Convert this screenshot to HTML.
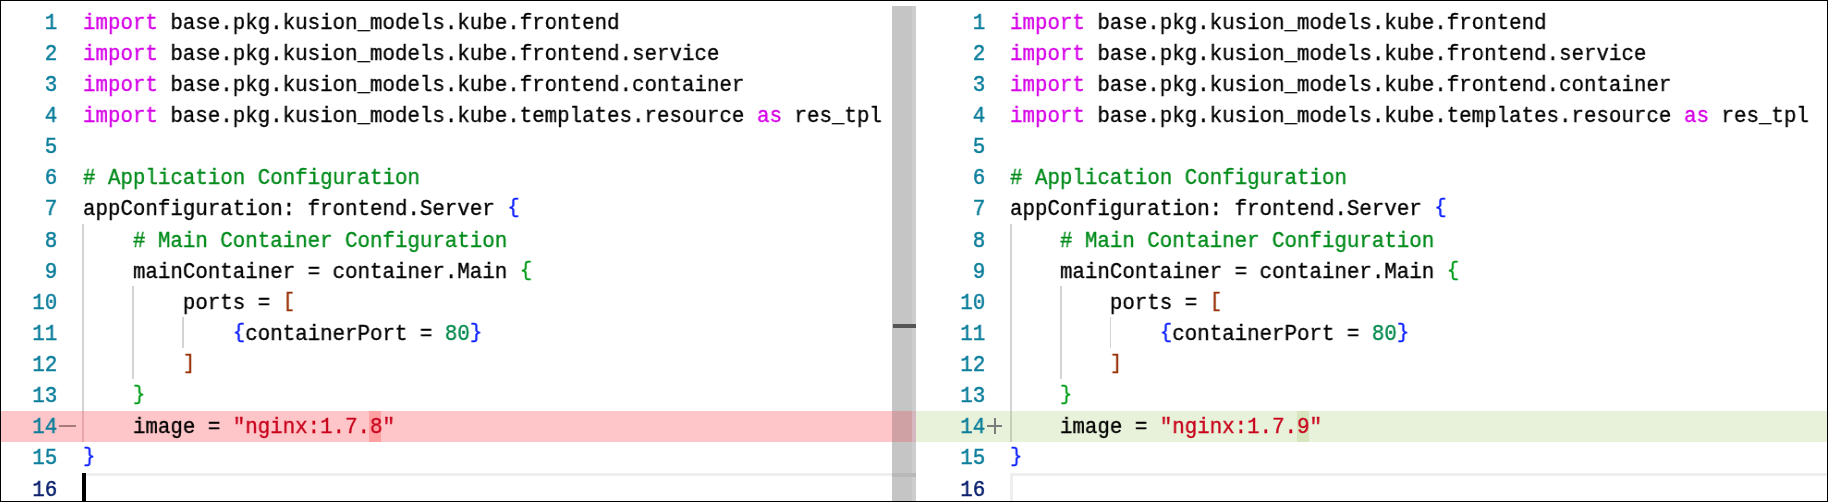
<!DOCTYPE html>
<html><head><meta charset="utf-8"><style>
html,body{margin:0;padding:0;}
body{width:1828px;height:502px;overflow:hidden;background:#fff;position:relative;font-family:"Liberation Mono",monospace;font-size:22.5px;}
.abs{position:absolute;}
.ln{position:absolute;width:57.2px;text-align:right;height:31.12px;line-height:31.12px;white-space:pre;transform:scaleX(0.92429);transform-origin:57.2px 0;-webkit-text-stroke:0.5px currentColor;will-change:transform;}
.code{position:absolute;height:31.12px;line-height:31.12px;white-space:pre;color:#000;transform:scaleX(0.92429);transform-origin:0 0;-webkit-text-stroke:0.35px currentColor;will-change:transform;}
.br{display:inline-block;transform:translateY(-2.4px) scaleY(0.914);transform-origin:50% 21.55px;}
.guide{position:absolute;width:1.73px;background:#d3d3d3;}
</style></head><body>
<div class="abs" style="left:1px;top:410.56px;width:915px;height:31.12px;background:#ffc6c9"></div>
<div class="abs" style="left:916px;top:410.56px;width:911px;height:31.12px;background:#e8f2da"></div>
<div class="abs" style="left:369.44px;top:410.56px;width:12px;height:31.12px;background:rgba(255,0,0,0.19)"></div>
<div class="abs" style="left:1296.94px;top:410.56px;width:12px;height:31.12px;background:rgba(155,185,85,0.2)"></div>
<div class="guide" style="left:82.40px;top:223.84px;height:186.72px"></div>
<div class="guide" style="left:82.40px;top:410.56px;height:31.12px;background:#e8a6aa"></div>
<div class="guide" style="left:132.32px;top:286.08px;height:93.36px"></div>
<div class="guide" style="left:182.24px;top:317.20px;height:31.12px"></div>
<div class="guide" style="left:1009.90px;top:223.84px;height:186.72px"></div>
<div class="guide" style="left:1009.90px;top:410.56px;height:31.12px;background:#c6cdb8"></div>
<div class="guide" style="left:1059.82px;top:286.08px;height:93.36px"></div>
<div class="guide" style="left:1109.74px;top:317.20px;height:31.12px"></div>
<div class="abs" style="left:82.40px;top:472.80px;width:809.60px;height:40px;border-top:3.8px solid #eeeeee;border-left:3.45px solid #eeeeee;box-sizing:border-box"></div>
<div class="abs" style="left:1009.90px;top:472.80px;width:818.10px;height:40px;border-top:3.8px solid #eeeeee;border-left:3.45px solid #eeeeee;box-sizing:border-box"></div>
<div class="abs" style="left:59px;top:425px;width:17px;height:2px;background:rgba(60,30,30,0.45)"></div>
<div class="abs" style="left:987px;top:425px;width:15px;height:2px;background:#7b7b7b"></div>
<div class="abs" style="left:994px;top:418px;width:1.5px;height:16px;background:#7b7b7b"></div>
<div class="ln" style="top:7.70px;left:0.00px;color:#0b7e9b">1</div>
<div class="ln" style="top:38.82px;left:0.00px;color:#0b7e9b">2</div>
<div class="ln" style="top:69.94px;left:0.00px;color:#0b7e9b">3</div>
<div class="ln" style="top:101.06px;left:0.00px;color:#0b7e9b">4</div>
<div class="ln" style="top:132.18px;left:0.00px;color:#0b7e9b">5</div>
<div class="ln" style="top:163.30px;left:0.00px;color:#0b7e9b">6</div>
<div class="ln" style="top:194.42px;left:0.00px;color:#0b7e9b">7</div>
<div class="ln" style="top:225.54px;left:0.00px;color:#0b7e9b">8</div>
<div class="ln" style="top:256.66px;left:0.00px;color:#0b7e9b">9</div>
<div class="ln" style="top:287.78px;left:0.00px;color:#0b7e9b">10</div>
<div class="ln" style="top:318.90px;left:0.00px;color:#0b7e9b">11</div>
<div class="ln" style="top:350.02px;left:0.00px;color:#0b7e9b">12</div>
<div class="ln" style="top:381.14px;left:0.00px;color:#0b7e9b">13</div>
<div class="ln" style="top:412.26px;left:0.00px;color:#0b7e9b">14</div>
<div class="ln" style="top:443.38px;left:0.00px;color:#0b7e9b">15</div>
<div class="ln" style="top:474.50px;left:0.00px;color:#0b216f">16</div>
<div class="code" style="top:7.70px;left:82.70px"><span style="color:#d600e8">import</span> base.pkg.kusion_models.kube.frontend</div>
<div class="code" style="top:38.82px;left:82.70px"><span style="color:#d600e8">import</span> base.pkg.kusion_models.kube.frontend.service</div>
<div class="code" style="top:69.94px;left:82.70px"><span style="color:#d600e8">import</span> base.pkg.kusion_models.kube.frontend.container</div>
<div class="code" style="top:101.06px;left:82.70px"><span style="color:#d600e8">import</span> base.pkg.kusion_models.kube.templates.resource <span style="color:#d600e8">as</span> res_tpl</div>
<div class="code" style="top:163.30px;left:82.70px"><span style="color:#008b1b"># Application Configuration</span></div>
<div class="code" style="top:194.42px;left:82.70px">appConfiguration: frontend.Server <span class="br" style="color:#0a1eff">{</span></div>
<div class="code" style="top:225.54px;left:82.70px">    <span style="color:#008b1b"># Main Container Configuration</span></div>
<div class="code" style="top:256.66px;left:82.70px">    mainContainer = container.Main <span class="br" style="color:#009c18">{</span></div>
<div class="code" style="top:287.78px;left:82.70px">        ports = <span class="br" style="color:#983208">[</span></div>
<div class="code" style="top:318.90px;left:82.70px">            <span class="br" style="color:#0a1eff">{</span>containerPort = <span style="color:#00894c">80</span><span class="br" style="color:#0a1eff">}</span></div>
<div class="code" style="top:350.02px;left:82.70px">        <span class="br" style="color:#983208">]</span></div>
<div class="code" style="top:381.14px;left:82.70px">    <span class="br" style="color:#009c18">}</span></div>
<div class="code" style="top:412.26px;left:82.70px">    image = <span style="color:#c9001b">&quot;nginx:1.7.</span><span style="color:#c9001b">8</span><span style="color:#c9001b">&quot;</span></div>
<div class="code" style="top:443.38px;left:82.70px"><span class="br" style="color:#0a1eff">}</span></div>
<div class="ln" style="top:7.70px;left:927.50px;color:#0b7e9b">1</div>
<div class="ln" style="top:38.82px;left:927.50px;color:#0b7e9b">2</div>
<div class="ln" style="top:69.94px;left:927.50px;color:#0b7e9b">3</div>
<div class="ln" style="top:101.06px;left:927.50px;color:#0b7e9b">4</div>
<div class="ln" style="top:132.18px;left:927.50px;color:#0b7e9b">5</div>
<div class="ln" style="top:163.30px;left:927.50px;color:#0b7e9b">6</div>
<div class="ln" style="top:194.42px;left:927.50px;color:#0b7e9b">7</div>
<div class="ln" style="top:225.54px;left:927.50px;color:#0b7e9b">8</div>
<div class="ln" style="top:256.66px;left:927.50px;color:#0b7e9b">9</div>
<div class="ln" style="top:287.78px;left:927.50px;color:#0b7e9b">10</div>
<div class="ln" style="top:318.90px;left:927.50px;color:#0b7e9b">11</div>
<div class="ln" style="top:350.02px;left:927.50px;color:#0b7e9b">12</div>
<div class="ln" style="top:381.14px;left:927.50px;color:#0b7e9b">13</div>
<div class="ln" style="top:412.26px;left:927.50px;color:#0b7e9b">14</div>
<div class="ln" style="top:443.38px;left:927.50px;color:#0b7e9b">15</div>
<div class="ln" style="top:474.50px;left:927.50px;color:#0b216f">16</div>
<div class="code" style="top:7.70px;left:1010.20px"><span style="color:#d600e8">import</span> base.pkg.kusion_models.kube.frontend</div>
<div class="code" style="top:38.82px;left:1010.20px"><span style="color:#d600e8">import</span> base.pkg.kusion_models.kube.frontend.service</div>
<div class="code" style="top:69.94px;left:1010.20px"><span style="color:#d600e8">import</span> base.pkg.kusion_models.kube.frontend.container</div>
<div class="code" style="top:101.06px;left:1010.20px"><span style="color:#d600e8">import</span> base.pkg.kusion_models.kube.templates.resource <span style="color:#d600e8">as</span> res_tpl</div>
<div class="code" style="top:163.30px;left:1010.20px"><span style="color:#008b1b"># Application Configuration</span></div>
<div class="code" style="top:194.42px;left:1010.20px">appConfiguration: frontend.Server <span class="br" style="color:#0a1eff">{</span></div>
<div class="code" style="top:225.54px;left:1010.20px">    <span style="color:#008b1b"># Main Container Configuration</span></div>
<div class="code" style="top:256.66px;left:1010.20px">    mainContainer = container.Main <span class="br" style="color:#009c18">{</span></div>
<div class="code" style="top:287.78px;left:1010.20px">        ports = <span class="br" style="color:#983208">[</span></div>
<div class="code" style="top:318.90px;left:1010.20px">            <span class="br" style="color:#0a1eff">{</span>containerPort = <span style="color:#00894c">80</span><span class="br" style="color:#0a1eff">}</span></div>
<div class="code" style="top:350.02px;left:1010.20px">        <span class="br" style="color:#983208">]</span></div>
<div class="code" style="top:381.14px;left:1010.20px">    <span class="br" style="color:#009c18">}</span></div>
<div class="code" style="top:412.26px;left:1010.20px">    image = <span style="color:#c9001b">&quot;nginx:1.7.</span><span style="color:#c9001b">9</span><span style="color:#c9001b">&quot;</span></div>
<div class="code" style="top:443.38px;left:1010.20px"><span class="br" style="color:#0a1eff">}</span></div>
<div class="abs" style="left:82.4px;top:472.80px;width:3.45px;height:30px;background:#000"></div>
<div class="abs" style="left:892px;top:6px;width:20px;height:496px;background:#c5c5c5"></div>
<div class="abs" style="left:912px;top:6px;width:4.4px;height:496px;background:#cdcdcd"></div>
<div class="abs" style="left:892px;top:410.56px;width:20px;height:31.12px;background:#cfa0a4"></div>
<div class="abs" style="left:912px;top:410.56px;width:4.4px;height:31.12px;background:#d5b8bf"></div>
<div class="abs" style="left:892px;top:472.80px;width:24.4px;height:3.8px;background:#b8b8b8"></div>
<div class="abs" style="left:892.5px;top:324.4px;width:23.7px;height:3.45px;background:#555"></div>
<div class="abs" style="left:0;top:0;width:1828px;height:502px;border:1px solid #000;box-sizing:border-box"></div>
</body></html>
